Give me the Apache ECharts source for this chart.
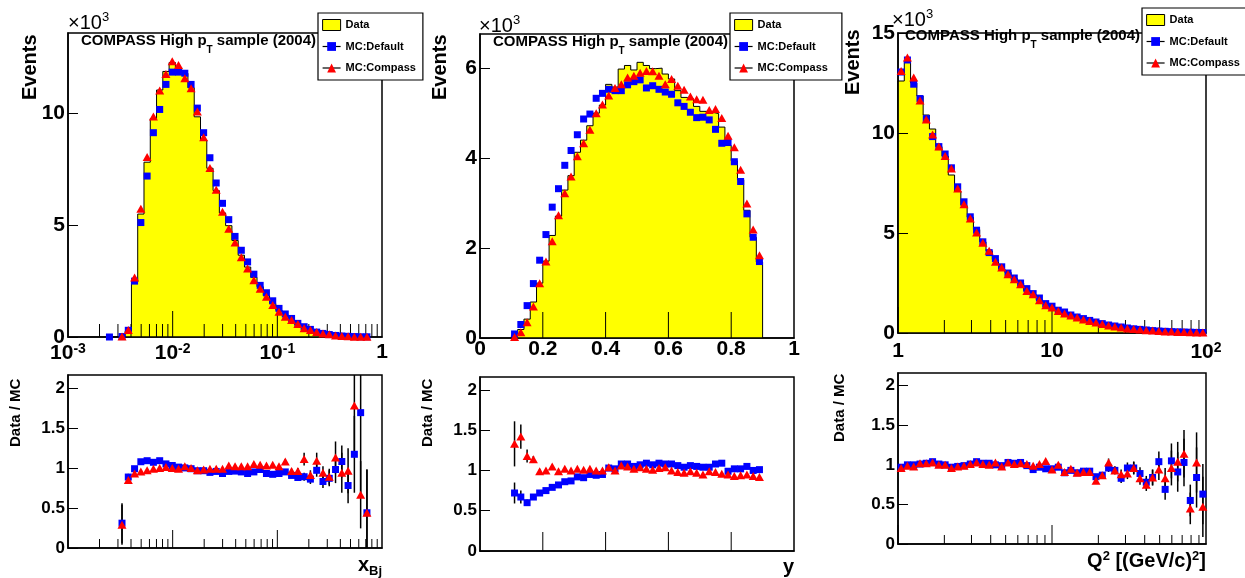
<!DOCTYPE html>
<html><head><meta charset="utf-8">
<script src="https://cdn.jsdelivr.net/npm/echarts@6/dist/echarts.min.js"></script>
<style>html,body{margin:0;padding:0;background:#fff}#c{width:1245px;height:578px}</style>
</head><body><div id="c"></div>
<script>
const FF = '"Liberation Sans", Arial, Helvetica, sans-serif';

// ---------- x_Bj panel (log10 bins of width 0.06, first lower edge 10^-2.634), values in 10^3 events ----------
const xbjLogLow = -2.634, xbjLogWidth = 0.06;
const xbjData = [0, 0, 0.01, 0.26, 2.47, 5.50, 7.82, 9.77, 11.05, 11.88, 12.28, 12.05, 11.80, 11.15, 9.85, 8.80, 7.55, 6.55, 5.55, 4.98, 4.32, 3.66, 3.13, 2.67, 2.25, 1.85, 1.49, 1.19, 0.98, 0.75, 0.55, 0.42, 0.29, 0.22, 0.14, 0.10, 0.07, 0.045, 0.025, 0.02, 0.015, 0.005];
const xbjMcDefault = [0, null, 0.02, 0.30, 2.50, 5.12, 7.20, 9.14, 10.18, 11.30, 11.85, 11.85, 11.80, 11.30, 10.24, 9.14, 8.02, 6.89, 5.98, 5.25, 4.50, 3.88, 3.36, 2.81, 2.31, 1.98, 1.62, 1.28, 1.03, 0.83, 0.61, 0.46, 0.34, 0.22, 0.16, 0.11, 0.07, 0.045, 0.03, 0.02, 0.01, 0.01];
const xbjMcCompass = [null, null, 0.02, 0.31, 2.66, 5.74, 8.05, 9.87, 11.03, 11.77, 12.34, 12.17, 11.58, 11.13, 10.09, 8.94, 7.56, 6.59, 5.60, 4.84, 4.23, 3.57, 3.07, 2.54, 2.16, 1.80, 1.43, 1.13, 0.91, 0.76, 0.58, 0.39, 0.31, 0.22, 0.16, 0.12, 0.07, 0.045, 0.03, 0.015, 0.012, 0.01];
const xbjRatioDefault = [null, null, 0.31, 0.886, 0.99, 1.077, 1.09, 1.07, 1.09, 1.05, 1.03, 1.01, 1.0, 0.99, 0.965, 0.965, 0.944, 0.956, 0.93, 0.956, 0.96, 0.95, 0.93, 0.95, 0.98, 0.93, 0.92, 0.93, 0.95, 0.906, 0.88, 0.89, 0.86, 0.97, 0.83, 0.87, 0.98, 1.08, 0.78, 1.17, 1.69, 0.44];
const xbjRatioCompass = [null, null, 0.29, 0.85, 0.93, 0.956, 0.97, 0.99, 1.0, 1.01, 1.0, 0.99, 1.02, 1.0, 0.97, 0.98, 0.99, 0.99, 0.99, 1.03, 1.02, 1.02, 1.02, 1.05, 1.04, 1.03, 1.04, 1.02, 1.08, 0.96, 0.96, 1.11, 0.91, 1.09, 0.94, 0.89, 1.13, 0.94, 0.965, 1.78, 0.665, 0.44];
const xbjErrDefault = [null, null, 0.25, 0.04, 0.02, 0.01, 0.01, 0.01, 0.01, 0.01, 0.01, 0.01, 0.01, 0.01, 0.01, 0.01, 0.01, 0.01, 0.01, 0.01, 0.01, 0.01, 0.01, 0.015, 0.015, 0.02, 0.02, 0.02, 0.03, 0.03, 0.04, 0.05, 0.06, 0.08, 0.08, 0.1, 0.17, 0.2, 0.22, 0.48, 1.0, 0.54];
const xbjErrCompass = [null, null, 0.25, 0.04, 0.02, 0.01, 0.01, 0.01, 0.01, 0.01, 0.01, 0.01, 0.01, 0.01, 0.01, 0.01, 0.01, 0.01, 0.01, 0.01, 0.01, 0.01, 0.01, 0.015, 0.015, 0.02, 0.02, 0.02, 0.03, 0.03, 0.04, 0.08, 0.06, 0.1, 0.08, 0.1, 0.2, 0.25, 0.28, 0.6, 0.42, 0.54];
const xbjMajorTicks = [0.01, 0.1];
const xbjMinorTicks = [0.002, 0.003, 0.004, 0.005, 0.006, 0.007, 0.008, 0.009, 0.02, 0.03, 0.04, 0.05, 0.06, 0.07, 0.08, 0.09, 0.2, 0.3, 0.4, 0.5, 0.6, 0.7, 0.8, 0.9];

// ---------- y panel (40 bins of 0.02 from 0.1) ----------
const yBinLow = 0.1, yBinWidth = 0.02;
const yData = [0.05, 0.19, 0.42, 0.80, 1.22, 1.71, 2.28, 2.71, 3.29, 3.61, 4.13, 4.40, 4.72, 5.00, 5.18, 5.64, 5.58, 5.98, 6.06, 5.96, 6.13, 6.06, 5.99, 6.00, 5.87, 5.76, 5.50, 5.35, 5.32, 5.15, 5.04, 5.02, 4.99, 4.69, 4.28, 3.94, 3.52, 2.84, 2.24, 1.69];
const yMcDefault = [0.09, 0.30, 0.72, 1.21, 1.73, 2.30, 2.91, 3.32, 3.84, 4.17, 4.52, 4.87, 4.98, 5.33, 5.44, 5.53, 5.50, 5.50, 5.63, 5.70, 5.74, 5.56, 5.61, 5.53, 5.47, 5.42, 5.23, 5.15, 5.02, 4.90, 4.91, 4.85, 4.64, 4.33, 4.35, 3.92, 3.48, 2.76, 2.24, 1.70];
const yMcCompass = [0.02, 0.13, 0.35, 0.70, 1.22, 1.70, 2.15, 2.73, 3.22, 3.59, 4.04, 4.33, 4.63, 5.00, 5.19, 5.39, 5.56, 5.64, 5.79, 5.83, 5.90, 5.94, 5.93, 5.83, 5.64, 5.76, 5.61, 5.52, 5.37, 5.31, 5.30, 5.07, 5.09, 4.89, 4.50, 4.24, 3.74, 2.99, 2.41, 1.84];
const yRatioDefault = [0.72, 0.67, 0.60, 0.67, 0.72, 0.75, 0.79, 0.82, 0.86, 0.87, 0.92, 0.91, 0.95, 0.94, 0.95, 1.03, 1.02, 1.08, 1.08, 1.05, 1.07, 1.09, 1.07, 1.09, 1.08, 1.08, 1.06, 1.04, 1.06, 1.05, 1.04, 1.04, 1.08, 1.09, 0.99, 1.02, 1.02, 1.05, 1.00, 1.01];
const yRatioCompass = [1.33, 1.42, 1.18, 1.14, 0.99, 1.00, 1.05, 0.99, 1.02, 1.00, 1.02, 1.01, 1.02, 1.00, 1.00, 1.04, 1.00, 1.06, 1.05, 1.02, 1.04, 1.02, 1.01, 1.03, 1.04, 1.00, 0.98, 0.97, 0.99, 0.97, 0.95, 0.99, 0.98, 0.96, 0.95, 0.93, 0.94, 0.95, 0.93, 0.92];
const yErrDefault = [0.13, 0.08, 0.04, 0.03, 0.02, 0.02, 0.015, 0.015, 0.01, 0.01, 0.01, 0.01, 0.01, 0.01, 0.01, 0.01, 0.01, 0.01, 0.01, 0.01, 0.01, 0.01, 0.01, 0.01, 0.01, 0.01, 0.01, 0.01, 0.01, 0.01, 0.01, 0.01, 0.01, 0.01, 0.01, 0.01, 0.01, 0.01, 0.01, 0.01];
const yErrCompass = [0.28, 0.15, 0.08, 0.04, 0.03, 0.02, 0.02, 0.015, 0.01, 0.01, 0.01, 0.01, 0.01, 0.01, 0.01, 0.01, 0.01, 0.01, 0.01, 0.01, 0.01, 0.01, 0.01, 0.01, 0.01, 0.01, 0.01, 0.01, 0.01, 0.01, 0.01, 0.01, 0.01, 0.01, 0.01, 0.01, 0.01, 0.01, 0.01, 0.01];
const yMajorTicks = [0.2, 0.4, 0.6, 0.8];

// ---------- Q^2 panel (49 log10 bins spanning 1..100) ----------
const q2LogLow = 0, q2LogWidth = 2 / 49;
const q2Data = [12.6, 13.6, 12.5, 11.85, 10.9, 10.2, 9.32, 8.85, 7.9, 7.09, 6.38, 5.79, 5.17, 4.56, 4.11, 3.67, 3.20, 3.03, 2.72, 2.49, 2.12, 1.92, 1.66, 1.46, 1.19, 1.10, 0.88, 0.84, 0.69, 0.61, 0.55, 0.42, 0.39, 0.39, 0.31, 0.25, 0.20, 0.19, 0.14, 0.105, 0.10, 0.094, 0.066, 0.067, 0.057, 0.051, 0.018, 0.031, 0.012];
const q2McDefault = [13.05, 13.65, 12.44, 11.72, 10.72, 9.82, 9.32, 8.95, 8.26, 7.31, 6.56, 5.81, 5.14, 4.56, 4.02, 3.72, 3.31, 3.00, 2.75, 2.50, 2.22, 1.97, 1.75, 1.47, 1.34, 1.14, 1.05, 0.90, 0.80, 0.72, 0.63, 0.55, 0.47, 0.40, 0.35, 0.30, 0.25, 0.21, 0.18, 0.15, 0.12, 0.10, 0.085, 0.07, 0.06, 0.05, 0.04, 0.03, 0.025];
const q2McCompass = [13.10, 13.77, 12.77, 11.62, 10.68, 9.92, 9.32, 8.85, 8.23, 7.23, 6.44, 5.73, 5.02, 4.51, 4.11, 3.56, 3.27, 2.94, 2.69, 2.44, 2.10, 1.94, 1.64, 1.39, 1.27, 1.10, 0.97, 0.88, 0.77, 0.67, 0.60, 0.52, 0.45, 0.38, 0.33, 0.28, 0.23, 0.20, 0.17, 0.14, 0.12, 0.10, 0.08, 0.07, 0.055, 0.045, 0.04, 0.03, 0.025];
const q2RatioDefault = [0.97, 1.00, 1.00, 1.01, 1.02, 1.04, 1.01, 1.00, 0.97, 0.98, 0.99, 1.01, 1.04, 1.02, 1.02, 1.00, 0.99, 1.03, 1.02, 1.03, 0.99, 0.94, 0.97, 0.95, 0.95, 0.97, 0.90, 0.93, 0.90, 0.92, 0.92, 0.85, 0.87, 0.96, 0.93, 0.83, 0.96, 0.96, 0.89, 0.78, 0.84, 1.04, 0.69, 1.05, 0.91, 1.03, 0.55, 0.84, 0.63];
const q2RatioCompass = [0.96, 0.99, 0.98, 1.02, 1.02, 1.03, 1.00, 1.00, 0.96, 0.98, 0.99, 1.01, 1.03, 1.01, 1.00, 1.03, 0.98, 1.03, 1.01, 1.02, 1.01, 0.99, 1.01, 1.05, 0.94, 1.00, 0.91, 0.95, 0.90, 0.91, 0.91, 0.80, 0.87, 1.03, 0.93, 0.88, 0.89, 0.96, 0.83, 0.75, 0.84, 0.94, 0.83, 0.96, 1.04, 1.14, 0.45, 1.03, 0.47];
const q2Err = [0.01, 0.01, 0.01, 0.01, 0.01, 0.01, 0.01, 0.01, 0.01, 0.01, 0.01, 0.01, 0.01, 0.01, 0.01, 0.01, 0.01, 0.01, 0.01, 0.01, 0.01, 0.01, 0.01, 0.01, 0.01, 0.01, 0.02, 0.02, 0.02, 0.02, 0.025, 0.03, 0.035, 0.05, 0.05, 0.06, 0.07, 0.08, 0.08, 0.08, 0.1, 0.13, 0.13, 0.22, 0.25, 0.3, 0.2, 0.38, 0.38];
const q2MajorTicks = [1, 10];
const q2MinorTicks = [2, 3, 4, 5, 6, 7, 8, 9, 20, 30, 40, 50, 60, 70, 80, 90];

// ---------- binning helpers ----------
function logEdges(n, lo, w) { return Array.from({length: n + 1}, (_, k) => Math.pow(10, lo + k * w)); }
function linEdges(n, lo, w) { return Array.from({length: n + 1}, (_, k) => lo + k * w); }
function logCenters(e) { return e.slice(0, -1).map((v, k) => Math.sqrt(v * e[k + 1])); }
function linCenters(e) { return e.slice(0, -1).map((v, k) => (v + e[k + 1]) / 2); }

const xbjE = logEdges(xbjData.length, xbjLogLow, xbjLogWidth), xbjC = logCenters(xbjE);
const yE = linEdges(yData.length, yBinLow, yBinWidth), yC = linCenters(yE);
const q2E = logEdges(q2Data.length, q2LogLow, q2LogWidth), q2C = logCenters(q2E);

const RMAX = 2.16;
const series = [];
function addHist(ai, edges, vals) {
  const pts = [[edges[0], 0]];
  for (let i = 0; i < vals.length; i++) pts.push([edges[i], vals[i]]);
  pts.push([edges[vals.length], vals[vals.length - 1]]);
  pts.push([edges[vals.length], 0]);
  series.push({name: 'Data', type: 'line', xAxisIndex: ai, yAxisIndex: ai, data: pts, step: 'end',
    symbol: 'none', showSymbol: false, lineStyle: {color: '#000', width: 1},
    itemStyle: {color: '#ffff00'}, areaStyle: {color: '#ffff00', opacity: 1}, z: 1, silent: true});
}
function addMarkers(name, ai, xs, ys, color, sym, size, z) {
  const pts = [];
  xs.forEach((x, i) => { if (ys[i] != null) pts.push([x, ys[i]]); });
  series.push({name, type: 'line', xAxisIndex: ai, yAxisIndex: ai, data: pts, symbol: sym, symbolSize: size,
    showSymbol: true, showAllSymbol: true, lineStyle: {width: 0, opacity: 0},
    itemStyle: {color, borderWidth: 0}, z, silent: true});
}
function addErr(ai, xs, ys, es) {
  const d = [];
  xs.forEach((x, i) => { if (ys[i] != null && es[i] != null) d.push([x, ys[i] - es[i], ys[i] + es[i]]); });
  series.push({type: 'custom', xAxisIndex: ai, yAxisIndex: ai, data: d, encode: {x: 0, y: [1, 2]}, z: 2, silent: true,
    renderItem(params, api) {
      const x = api.value(0);
      const a = api.coord([x, Math.max(api.value(1), 0)]);
      const b = api.coord([x, Math.min(api.value(2), RMAX)]);
      return {type: 'line', shape: {x1: a[0], y1: a[1], x2: b[0], y2: b[1]}, style: {stroke: '#000', lineWidth: 1.5}};
    }});
}
function addTicks(ai, vals, len) {
  series.push({type: 'custom', xAxisIndex: ai, yAxisIndex: ai, data: vals.map(v => [v, 0]), encode: {x: 0, y: 1}, z: 3, silent: true,
    renderItem(params, api) {
      const p = api.coord([api.value(0), 0]);
      return {type: 'line', shape: {x1: p[0], y1: p[1], x2: p[0], y2: p[1] - len}, style: {stroke: '#000', lineWidth: 1}};
    }});
}

// top panels
addHist(0, xbjE, xbjData);
addMarkers('MC:Default', 0, xbjC, xbjMcDefault, '#0000ff', 'rect', 7, 4);
addMarkers('MC:Compass', 0, xbjC, xbjMcCompass, '#ff0000', 'triangle', [9, 8], 5);
addTicks(0, xbjMajorTicks, 26); addTicks(0, xbjMinorTicks, 13);

addHist(1, yE, yData);
addMarkers('MC:Default', 1, yC, yMcDefault, '#0000ff', 'rect', 7, 4);
addMarkers('MC:Compass', 1, yC, yMcCompass, '#ff0000', 'triangle', [9, 8], 5);
addTicks(1, yMajorTicks, 26);

addHist(2, q2E, q2Data);
addMarkers('MC:Default', 2, q2C, q2McDefault, '#0000ff', 'rect', 7, 4);
addMarkers('MC:Compass', 2, q2C, q2McCompass, '#ff0000', 'triangle', [9, 8], 5);
addTicks(2, q2MajorTicks, 26); addTicks(2, q2MinorTicks, 13);

// ratio panels
addErr(3, xbjC, xbjRatioDefault, xbjErrDefault); addErr(3, xbjC, xbjRatioCompass, xbjErrCompass);
addMarkers('MC:Default', 3, xbjC, xbjRatioDefault, '#0000ff', 'rect', 7, 4);
addMarkers('MC:Compass', 3, xbjC, xbjRatioCompass, '#ff0000', 'triangle', [9, 8], 5);
addTicks(3, xbjMajorTicks, 18); addTicks(3, xbjMinorTicks, 9);

addErr(4, yC, yRatioDefault, yErrDefault); addErr(4, yC, yRatioCompass, yErrCompass);
addMarkers('MC:Default', 4, yC, yRatioDefault, '#0000ff', 'rect', 7, 4);
addMarkers('MC:Compass', 4, yC, yRatioCompass, '#ff0000', 'triangle', [9, 8], 5);
addTicks(4, yMajorTicks, 19);

addErr(5, q2C, q2RatioDefault, q2Err); addErr(5, q2C, q2RatioCompass, q2Err);
addMarkers('MC:Default', 5, q2C, q2RatioDefault, '#0000ff', 'rect', 7, 4);
addMarkers('MC:Compass', 5, q2C, q2RatioCompass, '#ff0000', 'triangle', [9, 8], 5);
addTicks(5, q2MajorTicks, 19); addTicks(5, q2MinorTicks, 9);

// ---------- axes ----------
const axLine = {show: true, onZero: false, lineStyle: {color: '#000', width: 1.5}};
function powLabel(v) {
  const e = Math.round(Math.log10(v));
  if (e === 0) return '{b|1}';
  if (e === 1) return '{b|10}';
  return '{b|10}{e|' + e + '}';
}
const richPow = {b: {fontFamily: FF, fontWeight: 'bold', fontSize: 21, color: '#000'},
                 e: {fontFamily: FF, fontWeight: 'bold', fontSize: 14, color: '#000', padding: [0, 0, 9, 0]}};
function xAx(gi, type, min, max, label, name, nameRich, namePadTop) {
  const a = {gridIndex: gi, type, min, max, z: 3, axisLine: axLine, axisTick: {show: false},
    splitLine: {show: false}, minorTick: {show: false}, minorSplitLine: {show: false}};
  if (type === 'log') a.logBase = 10;
  if (type === 'value') a.interval = 0.2;
  a.axisLabel = label ? Object.assign({show: true, hideOverlap: false, color: '#000'}, label) : {show: false};
  if (name) {
    a.name = name; a.nameLocation = 'end'; a.nameGap = 0; a.nameMoveOverlap = false;
    a.nameTextStyle = {fontFamily: FF, fontWeight: 'bold', fontSize: 20, color: '#000', align: 'right',
      verticalAlign: 'top', padding: [namePadTop, 0, 0, 0], rich: nameRich};
  }
  return a;
}
const richXbj = {x: {fontFamily: FF, fontWeight: 'bold', fontSize: 20, color: '#000'},
                 s: {fontFamily: FF, fontWeight: 'bold', fontSize: 13, color: '#000', padding: [12, 0, 0, 0]}};
const richQ2 = {q: {fontFamily: FF, fontWeight: 'bold', fontSize: 20, color: '#000'},
                p: {fontFamily: FF, fontWeight: 'bold', fontSize: 13, color: '#000', padding: [0, 0, 10, 0]}};

const xAxis = [
  xAx(0, 'log', 0.001, 1, {margin: 5, formatter: powLabel, rich: richPow}),
  xAx(1, 'value', 0, 1, {margin: 1, fontFamily: FF, fontWeight: 'bold', fontSize: 21, formatter: v => String(+(+v).toFixed(1))}),
  xAx(2, 'log', 1, 100, {margin: 8, formatter: powLabel, rich: richPow}),
  xAx(3, 'log', 0.001, 1, null, '{x|x}{s|Bj}', richXbj, 5),
  xAx(4, 'value', 0, 1, null, '{x|y}', richXbj, 6),
  xAx(5, 'log', 1, 100, null, '{q|Q}{p|2}{q| [(GeV/c)}{p|2}{q|]}', richQ2, 6)
];

function yAx(gi, max, interval, showMax, fs) {
  return {gridIndex: gi, type: 'value', min: 0, max, interval, z: 3,
    axisLine: {show: true, lineStyle: {color: '#000', width: 1.5}},
    axisTick: {show: true, inside: true, length: 10, lineStyle: {color: '#000', width: 1}},
    splitLine: {show: false},
    axisLabel: {show: true, margin: 3, color: '#000', fontFamily: FF, fontWeight: 'bold', fontSize: fs,
      showMaxLabel: showMax, hideOverlap: false}};
}
// title-only y axes, shifted left of the frame so the rotated titles sit where ROOT puts them
function yTitleAx(gi, name, nfs, gap, offset) {
  return {gridIndex: gi, type: 'value', min: 0, max: 1, position: 'left', offset,
    axisLine: {show: false}, axisTick: {show: false}, axisLabel: {show: false}, splitLine: {show: false},
    name, nameLocation: 'end', nameRotate: 90, nameGap: gap, nameMoveOverlap: false,
    nameTextStyle: {fontFamily: FF, fontWeight: 'bold', fontSize: nfs, color: '#000'}};
}
const yAxis = [
  yAx(0, 13.6, 5, false, 21),
  yAx(1, 6.76, 2, false, 21),
  yAx(2, 15, 5, true, 21),
  yAx(3, RMAX, 0.5, false, 17),
  yAx(4, RMAX, 0.5, false, 17),
  yAx(5, RMAX, 0.5, false, 17),
  yTitleAx(0, 'Events', 20, -67, 38),
  yTitleAx(1, 'Events', 20, -66, 40),
  yTitleAx(2, 'Events', 20, -62, 45),
  yTitleAx(3, 'Data / MC', 15, -72, 52),
  yTitleAx(4, 'Data / MC', 15, -70, 52),
  yTitleAx(5, 'Data / MC', 15, -69, 58)
];

const gridBase = {show: true, borderColor: '#000', borderWidth: 1.5, backgroundColor: 'transparent', containLabel: false, outerBoundsMode: 'none'};
const grid = [
  {left: 68, top: 33, width: 314, height: 304},
  {left: 480, top: 34, width: 314, height: 304},
  {left: 898, top: 33, width: 308, height: 300},
  {left: 68, top: 375, width: 314, height: 173},
  {left: 480, top: 377, width: 314, height: 174},
  {left: 898, top: 373, width: 308, height: 171}
].map(g => Object.assign({}, gridBase, g));

// ---------- titles ----------
const expTitle = (left, top) => ({text: '×10{s|3}', left, top, padding: 0, z: 6,
  textStyle: {fontFamily: FF, fontWeight: 'normal', fontSize: 20, color: '#000',
    rich: {s: {fontFamily: FF, fontWeight: 'normal', fontSize: 13, color: '#000', padding: [0, 0, 12, 0]}}}});
const sampleTitle = (left, top) => ({text: 'COMPASS High p{t|T} sample (2004)', left, top, padding: 0, z: 6,
  textStyle: {fontFamily: FF, fontWeight: 'bold', fontSize: 15, color: '#000',
    rich: {t: {fontFamily: FF, fontWeight: 'bold', fontSize: 10, color: '#000', padding: [18, 0, 0, 0]}}}});
const title = [expTitle(68, 11), expTitle(479, 14), expTitle(892, 8),
               sampleTitle(81, 27), sampleTitle(493, 28), sampleTitle(905, 22)];

// ---------- legends ----------
const legendBase = {orient: 'vertical', itemWidth: 18, itemHeight: 11, itemGap: 7.5, selectedMode: false, z: 10,
  backgroundColor: '#fff', borderColor: '#000', borderWidth: 1.2,
  textStyle: {fontFamily: FF, fontSize: 11, fontWeight: 'bold', color: '#000', lineHeight: 14},
  lineStyle: {color: '#000', width: 1.2, opacity: 1, type: 'solid'},
  data: [{name: 'Data', icon: 'rect', itemStyle: {color: '#ffff00', borderColor: '#000', borderWidth: 1}},
         {name: 'MC:Default'}, {name: 'MC:Compass'}]};
const legend = [
  Object.assign({}, legendBase, {left: 318, top: 13, padding: [5, 7, 5, 4]}),
  Object.assign({}, legendBase, {left: 730, top: 13, padding: [5, 14, 5, 4]}),
  Object.assign({}, legendBase, {left: 1142, top: 8, padding: [5, 6, 5, 4]})
];

const chart = echarts.init(document.getElementById('c'), null, {renderer: 'canvas', width: 1245, height: 578});
chart.setOption({animation: false, backgroundColor: '#fff', textStyle: {fontFamily: FF},
  title, legend, grid, xAxis, yAxis, series});
</script>
</body></html>
